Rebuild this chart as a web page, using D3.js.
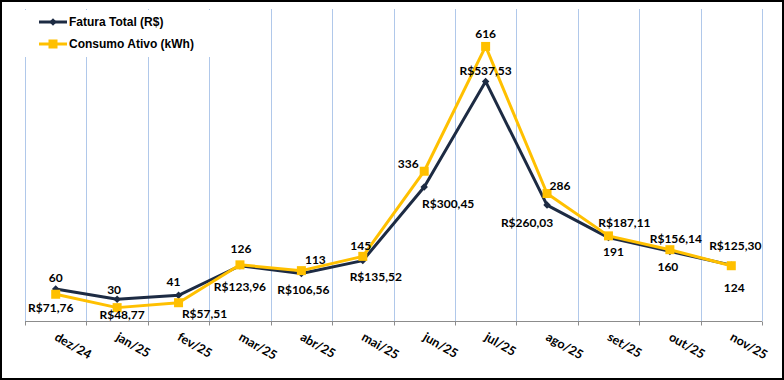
<!DOCTYPE html>
<html><head><meta charset="utf-8">
<script src="https://cdn.jsdelivr.net/npm/d3@7"></script>
<style>html,body{margin:0;padding:0;background:#fff;}svg{display:block;}</style>
</head><body>
<svg id="c" width="784" height="380"></svg>
<script>
const categories = ["dez/24","jan/25","fev/25","mar/25","abr/25","mai/25","jun/25","jul/25","ago/25","set/25","out/25","nov/25"];
const fatura = [71.76,48.77,57.51,123.96,106.56,135.52,300.45,537.53,260.03,187.11,156.14,125.30];
const consumo = [60,30,41,126,113,145,336,616,286,191,160,124];
const seriesNames = ["Fatura Total (R$)","Consumo Ativo (kWh)"];
const yDomain = [0,700];

// label placement offsets (layout only)
const faturaLabelOffset = [[-5,18],[5,15],[26,18],[0,21],[2,16],[13,16],[24,16],[0,-11],[-20,17],[16,-15],[6,-13],[4,-20]];
const consumoLabelOffset = [[0,-17],[-3,-18],[-5,-21],[1,-16],[14,-11],[-2,-11],[-16,-8],[0,-13],[13,-8],[5,16],[-2,17],[3,22]];

const W=784,H=380;
const svg=d3.select("#c");
const navy="#1d2b43", gold="#ffc000", grid="#b0c8ea";
const x=d3.scaleBand().domain(categories).range([25,762]).padding(0);
const y=d3.scaleLinear().domain(yDomain).range([321,9]);
const cx=c=>x(c)+x.bandwidth()/2;
const loc=d3.formatLocale({decimal:",",thousands:".",grouping:[3],currency:["R$",""]});
const fmt=loc.format("$.2f");

svg.append("rect").attr("x",0).attr("y",0).attr("width",W).attr("height",H).attr("fill","#fff");

// gridlines at band boundaries
const bounds=categories.map(c=>x(c)).concat([x.range()[1]]);
svg.append("g").selectAll("line").data(bounds).join("line")
  .attr("x1",d=>Math.round(d)+0.5).attr("x2",d=>Math.round(d)+0.5)
  .attr("y1",y(yDomain[1])).attr("y2",y(0))
  .attr("stroke",grid).attr("stroke-width",1);

// x axis
const ax=svg.append("g").attr("transform",`translate(0,${y(0)+0.5})`);
ax.append("line").attr("x1",x.range()[0]).attr("x2",x.range()[1]).attr("stroke","#8c8c8c");
ax.selectAll("line.t").data(bounds).join("line").attr("class","t")
  .attr("x1",d=>Math.round(d)+0.5).attr("x2",d=>Math.round(d)+0.5).attr("y1",0).attr("y2",4).attr("stroke","#8c8c8c");
ax.selectAll("text").data(categories).join("text")
  .attr("transform",d=>`translate(${cx(d)-2},${18}) rotate(30)`)
  .attr("font-family","Lato, 'Open Sans', sans-serif").attr("font-weight","bold").attr("font-size",12.5)
  .attr("fill","#000").text(d=>d);

// lines
const lineF=d3.line().x((d,i)=>cx(categories[i])).y(d=>y(d));
svg.append("path").datum(fatura).attr("d",lineF).attr("fill","none").attr("stroke",navy).attr("stroke-width",3).attr("stroke-linejoin","round");
svg.append("g").selectAll("path").data(fatura).join("path")
  .attr("d",d3.symbol(d3.symbolDiamond2,36)).attr("transform",(d,i)=>`translate(${cx(categories[i])},${y(d)})`).attr("fill",navy);

svg.append("path").datum(consumo).attr("d",lineF).attr("fill","none").attr("stroke",gold).attr("stroke-width",3).attr("stroke-linejoin","round");
svg.append("g").selectAll("rect").data(consumo).join("rect")
  .attr("x",(d,i)=>cx(categories[i])-4.5).attr("y",d=>y(d)-4.5).attr("width",9).attr("height",9).attr("fill",gold);

// labels
const lf="Lato, 'Open Sans', sans-serif";
svg.append("g").selectAll("text").data(fatura).join("text")
  .attr("x",(d,i)=>cx(categories[i])+faturaLabelOffset[i][0]).attr("y",(d,i)=>y(d)+faturaLabelOffset[i][1])
  .attr("text-anchor","middle").attr("dominant-baseline","central")
  .attr("font-family",lf).attr("font-weight","bold").attr("font-size",12).attr("fill","#000").text(d=>fmt(d));
svg.append("g").selectAll("text").data(consumo).join("text")
  .attr("x",(d,i)=>cx(categories[i])+consumoLabelOffset[i][0]).attr("y",(d,i)=>y(d)+consumoLabelOffset[i][1])
  .attr("text-anchor","middle").attr("dominant-baseline","central")
  .attr("font-family",lf).attr("font-weight","bold").attr("font-size",12).attr("fill","#000").text(d=>d);

// legend
const lg=svg.append("g");
lg.append("rect").attr("x",20).attr("y",10).attr("width",196).attr("height",47).attr("fill","#fff");
[[navy,22],[gold,44]].forEach(([col,yy],k)=>{
  lg.append("line").attr("x1",39).attr("x2",67).attr("y1",yy).attr("y2",yy).attr("stroke",col).attr("stroke-width",3);
  if(k===0) lg.append("path").attr("d",d3.symbol(d3.symbolDiamond2,36)).attr("transform",`translate(53,${yy})`).attr("fill",col);
  else lg.append("rect").attr("x",53-4.5).attr("y",yy-4.5).attr("width",9).attr("height",9).attr("fill",col);
  lg.append("text").attr("x",69).attr("y",yy).attr("dominant-baseline","central")
    .attr("font-family","'Liberation Sans', Arial, sans-serif").attr("font-weight","bold").attr("font-size",12)
    .attr("fill","#000").text(seriesNames[k]);
});

// frame
svg.append("rect").attr("x",1).attr("y",1).attr("width",W-2).attr("height",H-2).attr("fill","none").attr("stroke","#000").attr("stroke-width",2);
</script>
</body></html>
